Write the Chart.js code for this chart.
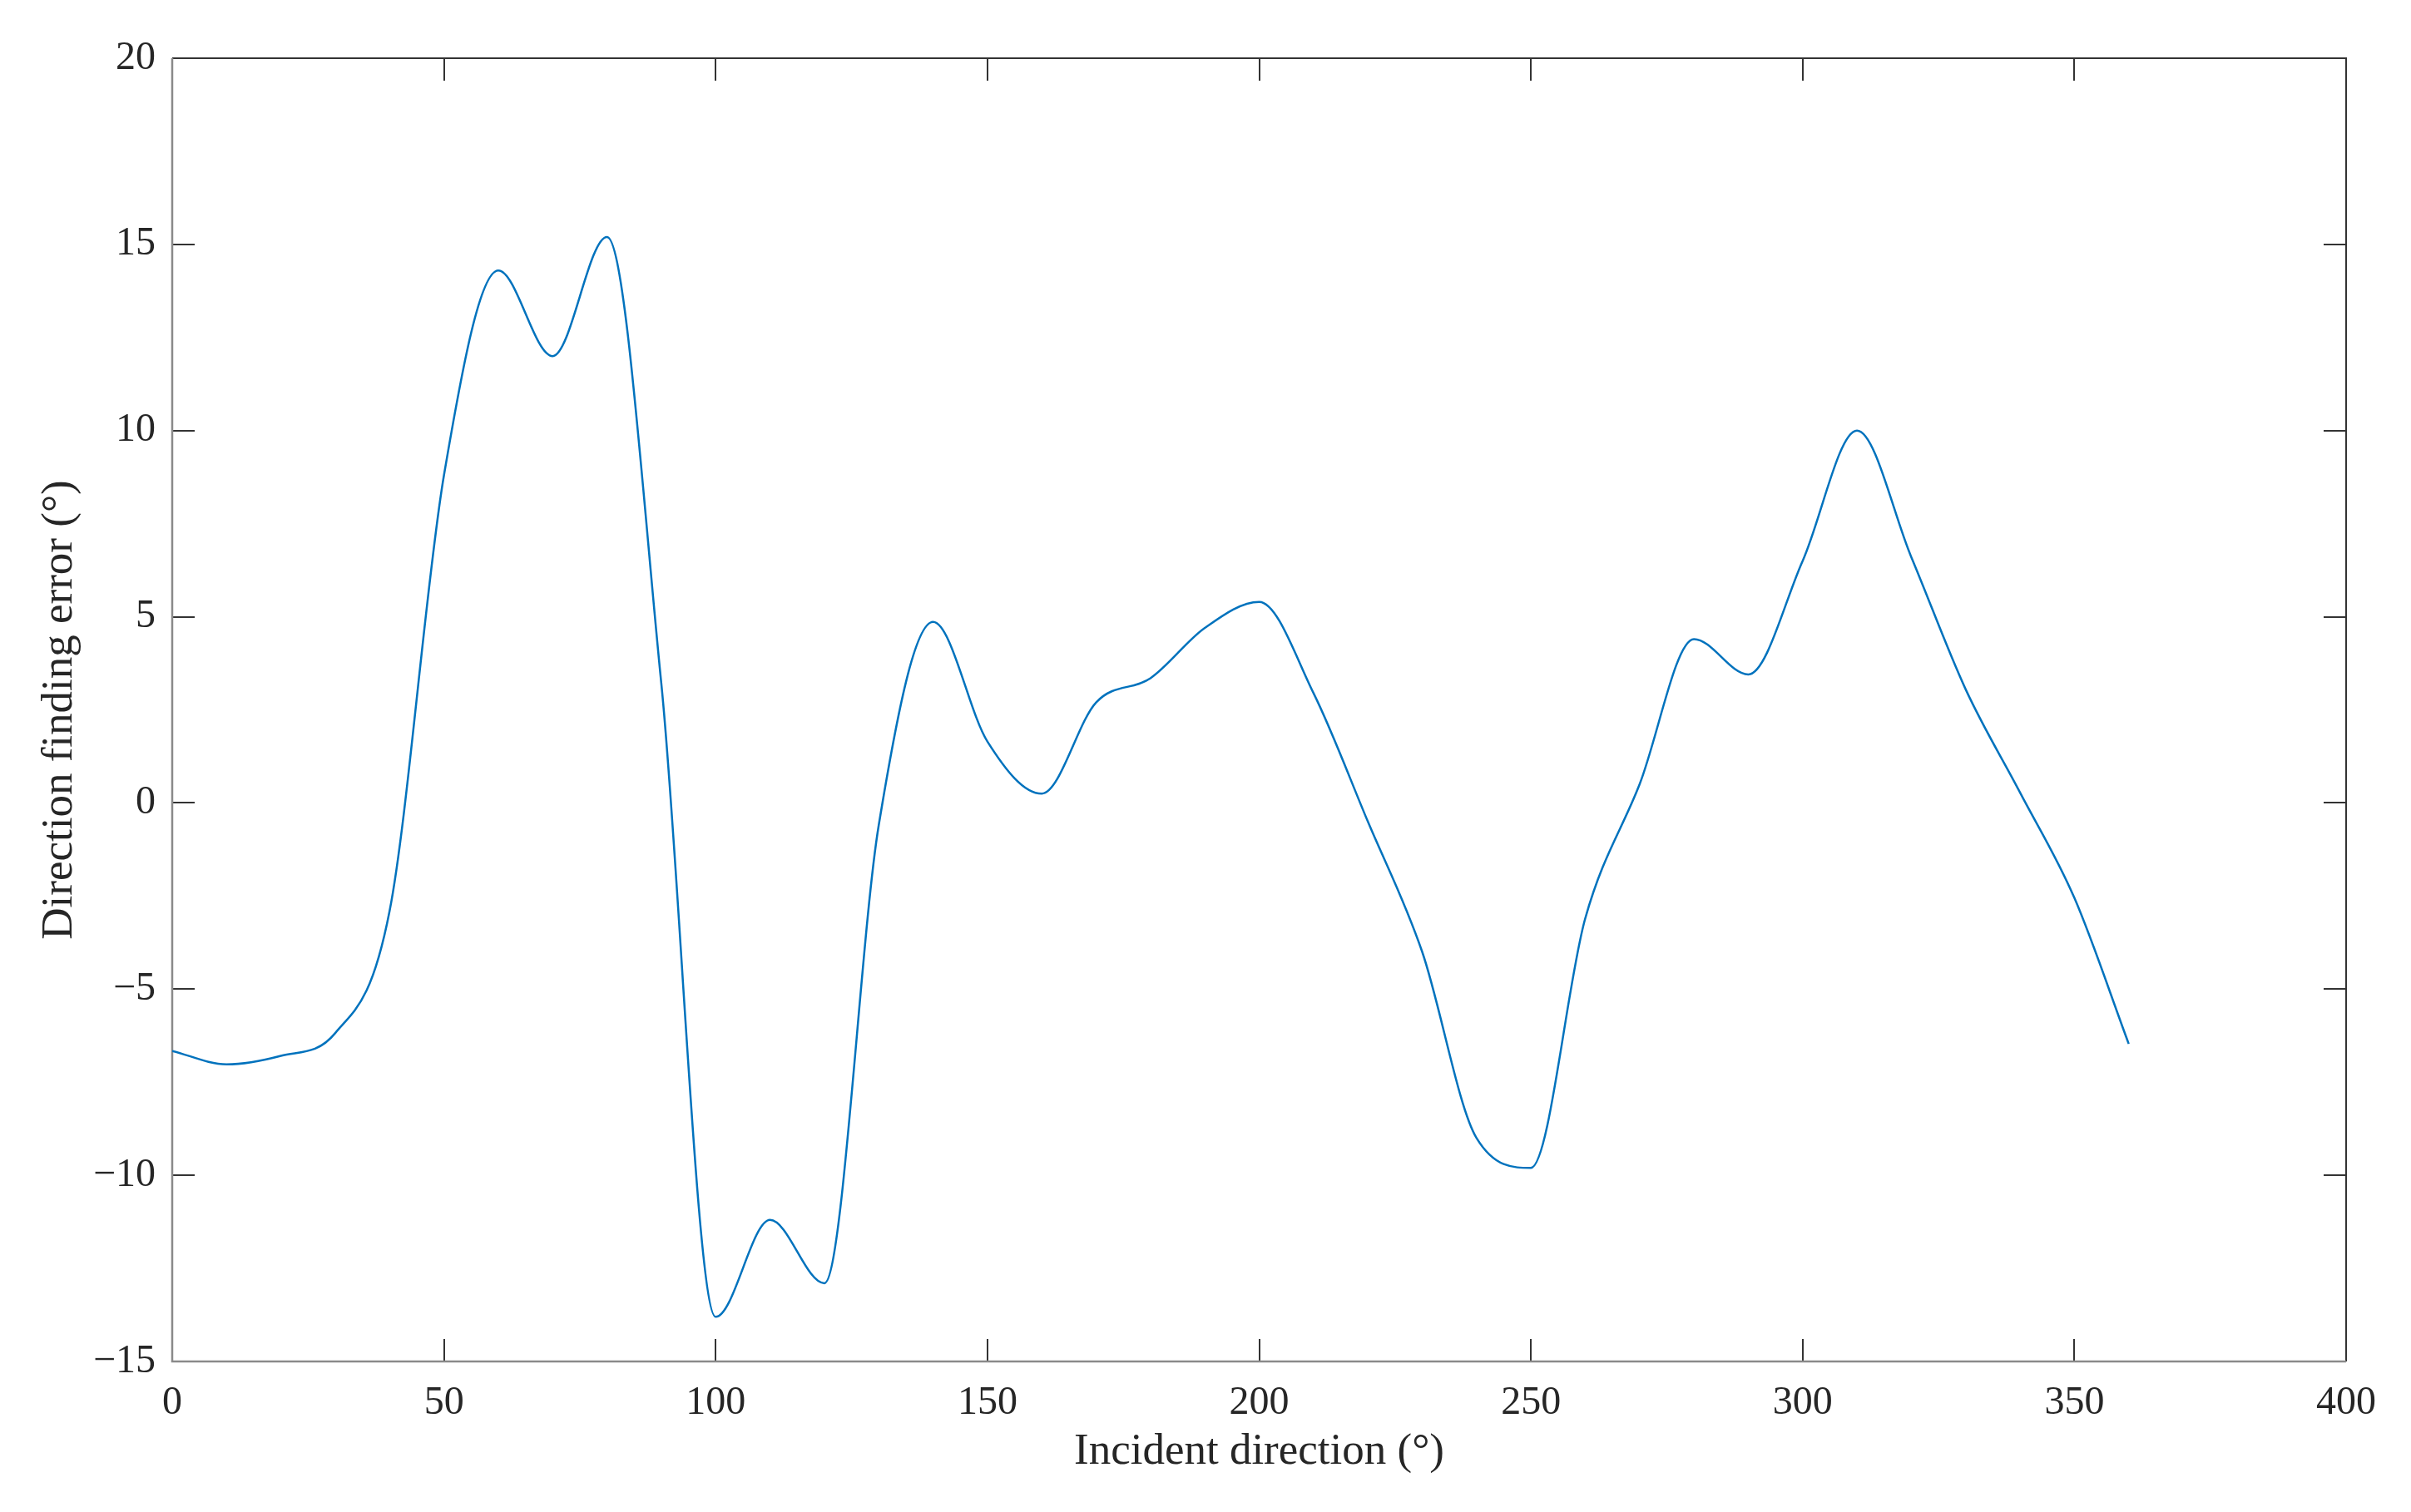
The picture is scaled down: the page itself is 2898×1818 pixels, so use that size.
<!DOCTYPE html>
<html>
<head>
<meta charset="utf-8">
<style>
  html, body { margin: 0; padding: 0; background: #fff; }
</style>
</head>
<body>
<canvas id="errorChart" width="2898" height="1818" style="width:2898px;height:1818px"></canvas>

<script src="https://cdn.jsdelivr.net/npm/chart.js"></script>
<script>
// incident direction (deg) and direction finding error (deg)
const angles = [0, 10, 20, 30, 40, 50, 60, 70, 80, 90,
  100, 110, 120, 130, 140, 150, 160, 170, 180, 190,
  200, 210, 220, 230, 240, 250, 260, 270, 280, 290,
  300, 310, 320, 330, 340, 350, 360];
const errors = [-6.66, -7.02, -6.79, -6.18, -2.9, 8.8, 14.3, 12.0, 15.2, 3.2,
  -13.8, -11.2, -12.9, -0.6, 4.86, 1.65, 0.25, 2.7, 3.35, 4.7,
  5.4, 2.95, -0.5, -4.0, -9.0, -9.8, -3.1, 0.5, 4.4, 3.45,
  6.5, 10.0, 6.6, 3.05, 0.28, -2.55, -6.47];

const xTicks = [0, 50, 100, 150, 200, 250, 300, 350, 400];
const yTicks = [-15, -10, -5, 0, 5, 10, 15, 20];

const xTitle = 'Incident direction (°)';
const yTitle = 'Direction finding error (°)';

const FONT = '"Liberation Serif", "Times New Roman", serif';
const TEXT = '#262626';

// MATLAB style box with inward ticks on all four sides
const boxPlugin = {
  id: 'matlabBox',
  beforeDatasetsDraw(chart) {
    const { ctx, chartArea: a, scales: { x, y } } = chart;
    const len = 27;
    ctx.save();
    ctx.lineWidth = 2;
    ctx.strokeStyle = '#333';
    ctx.beginPath();
    x.ticks.forEach(t => {
      const px = Math.round(x.getPixelForValue(t.value));
      ctx.moveTo(px, a.bottom); ctx.lineTo(px, a.bottom - len);
      ctx.moveTo(px, a.top); ctx.lineTo(px, a.top + len);
    });
    y.ticks.forEach(t => {
      const py = Math.round(y.getPixelForValue(t.value));
      ctx.moveTo(a.left, py); ctx.lineTo(a.left + len, py);
      ctx.moveTo(a.right, py); ctx.lineTo(a.right - len, py);
    });
    ctx.stroke();

    ctx.beginPath();
    ctx.moveTo(a.left, a.top); ctx.lineTo(a.right, a.top); ctx.lineTo(a.right, a.bottom);
    ctx.strokeStyle = '#333';
    ctx.stroke();

    ctx.beginPath();
    ctx.moveTo(a.left, a.top); ctx.lineTo(a.left, a.bottom); ctx.lineTo(a.right, a.bottom);
    ctx.strokeStyle = '#8a8a8a';
    ctx.lineWidth = 2.5;
    ctx.stroke();
    ctx.restore();
  }
};

const minus = v => (v < 0 ? '\u2212' + Math.abs(v) : String(v));

new Chart(document.getElementById('errorChart'), {
  type: 'line',
  data: {
    datasets: [{
      data: angles.map((a, i) => ({ x: a, y: errors[i] })),
      borderColor: '#0072BD',
      borderWidth: 2.5,
      pointRadius: 0,
      fill: false,
      cubicInterpolationMode: 'monotone'
    }]
  },
  options: {
    responsive: false,
    animation: false,
    devicePixelRatio: 1,
    layout: { padding: { top: 70, right: 78, bottom: 0, left: 0 } },
    plugins: { legend: { display: false }, tooltip: { enabled: false } },
    scales: {
      x: {
        type: 'linear',
        min: 0,
        max: 400,
        afterBuildTicks: s => { s.ticks = xTicks.map(v => ({ value: v })); },
        afterFit: s => { s.height = 181; },
        grid: { display: false, drawTicks: false },
        border: { display: false },
        ticks: {
          color: TEXT,
          font: { family: FONT, size: 48 },
          padding: 22,
          maxRotation: 0,
          callback: v => minus(v)
        },
        title: {
          display: true,
          text: xTitle,
          color: TEXT,
          font: { family: FONT, size: 53 },
          padding: { top: 0, bottom: 40 }
        }
      },
      y: {
        type: 'linear',
        min: -15,
        max: 20,
        afterBuildTicks: s => { s.ticks = yTicks.map(v => ({ value: v })); },
        afterFit: s => { s.width = 207; },
        grid: { display: false, drawTicks: false },
        border: { display: false },
        ticks: {
          color: TEXT,
          font: { family: FONT, size: 48 },
          padding: 20,
          callback: v => minus(v)
        },
        title: {
          display: true,
          text: yTitle,
          color: TEXT,
          font: { family: FONT, size: 53 },
          padding: { top: 40, bottom: 0 }
        }
      }
    }
  },
  plugins: [boxPlugin]
});
</script>
</body>
</html>
